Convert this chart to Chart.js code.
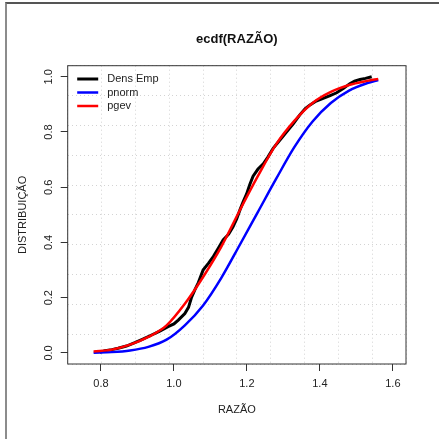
<!DOCTYPE html>
<html>
<head>
<meta charset="utf-8">
<script src="https://cdn.jsdelivr.net/npm/chart.js@4.4.1/dist/chart.umd.min.js"></script>
<style>
  html, body { margin: 0; padding: 0; background: #fff; }
  #wrap { position: relative; width: 439px; height: 439px; }
  #frame { position: absolute; left: 5px; top: 2px; right: 0; bottom: 0;
           border-left: 2px solid #8c8c8c; border-top: 2px solid #555; pointer-events: none; }
</style>
</head>
<body>
<div id="wrap">
  <canvas id="ecdfChart" width="439" height="439"></canvas>
  <div id="frame"></div>
</div>
<script>
// axis ticks
const xTicks = [0.8, 1.0, 1.2, 1.4, 1.6];
const yTicks = [0.0, 0.2, 0.4, 0.6, 0.8, 1.0];

const empX = [0.797, 0.811, 0.830, 0.847, 0.870, 0.893, 0.915, 0.939, 0.960, 0.984,
              1.000, 1.012, 1.030, 1.040, 1.048, 1.058, 1.067, 1.080, 1.095, 1.108,
              1.120, 1.135, 1.150, 1.162, 1.172, 1.181, 1.190, 1.199, 1.208, 1.217,
              1.230, 1.245, 1.258, 1.272, 1.290, 1.309, 1.327, 1.345, 1.360, 1.373,
              1.390, 1.409, 1.428, 1.446, 1.465, 1.482, 1.495, 1.510, 1.525, 1.542];
const empY = [0.002, 0.008, 0.012, 0.017, 0.025, 0.037, 0.050, 0.065, 0.078, 0.095,
              0.105, 0.119, 0.143, 0.165, 0.200, 0.230, 0.255, 0.300, 0.325, 0.349,
              0.375, 0.409, 0.430, 0.457, 0.485, 0.518, 0.548, 0.575, 0.610, 0.640,
              0.665, 0.685, 0.710, 0.741, 0.770, 0.801, 0.830, 0.862, 0.885, 0.898,
              0.912, 0.922, 0.932, 0.942, 0.958, 0.975, 0.984, 0.990, 0.994, 1.000];

// fitted normal
const normX = [0.78, 0.83, 0.88, 0.93, 0.98, 1.03, 1.08, 1.13, 1.18, 1.23, 1.28, 1.33, 1.38, 1.43, 1.48, 1.53, 1.56];
const normY = [0.001, 0.003, 0.009, 0.022, 0.048, 0.100, 0.172, 0.272, 0.390, 0.510, 0.630, 0.745, 0.838, 0.905, 0.950, 0.977, 0.988];

// fitted gev
const gevX = [0.78, 0.83, 0.88, 0.93, 0.98, 1.03, 1.08, 1.13, 1.18, 1.23, 1.28, 1.33, 1.38, 1.43, 1.48, 1.53, 1.56];
const gevY = [0.005, 0.012, 0.030, 0.058, 0.100, 0.178, 0.275, 0.385, 0.515, 0.640, 0.755, 0.840, 0.905, 0.945, 0.970, 0.985, 0.992];

const xMin = 0.709, xMax = 1.636;
const yMin = -0.04, yMax = 1.04;

function toPoints(xs, ys) {
    return xs.map((x, i) => ({ x: x, y: ys[i] }));
}

Chart.defaults.font.family = '"Liberation Sans", Arial, Helvetica, sans-serif';
Chart.defaults.color = '#222';

// dotted grid that splits the plot into 10 x 10 cells
function evenTicks(scale) {
    const ticks = [];
    for (let i = 0; i <= 10; i++) {
        ticks.push({ value: scale.min + i * (scale.max - scale.min) / 10 });
    }
    scale.ticks = ticks;
}

const boxPlugin = {
    id: 'box',
    afterDatasetsDraw(chart) {
        const { ctx, chartArea: a } = chart;
        ctx.save();
        ctx.strokeStyle = '#333';
        ctx.lineWidth = 1;
        ctx.strokeRect(a.left, a.top, a.right - a.left, a.bottom - a.top);
        ctx.restore();
    }
};

// rotated y tick labels, R style
const yLabelPlugin = {
    id: 'yLabels',
    afterDraw(chart) {
        const { ctx } = chart;
        const y = chart.scales.y;
        ctx.save();
        ctx.font = '11px "Liberation Sans", Arial, sans-serif';
        ctx.fillStyle = '#222';
        ctx.textAlign = 'center';
        ctx.textBaseline = 'middle';
        yTicks.forEach(v => {
            ctx.save();
            ctx.translate(48.5, y.getPixelForValue(v));
            ctx.rotate(-Math.PI / 2);
            ctx.fillText(v.toFixed(1), 0, 0);
            ctx.restore();
        });
        ctx.restore();
    }
};

// legend in the top-left corner, no box
const legendPlugin = {
    id: 'rLegend',
    afterDraw(chart) {
        const { ctx, chartArea: a } = chart;
        ctx.save();
        ctx.font = '11px "Liberation Sans", Arial, sans-serif';
        ctx.textAlign = 'left';
        ctx.textBaseline = 'middle';
        chart.data.datasets.forEach((ds, i) => {
            const yy = a.top + 13.3 + i * 13.5;
            ctx.strokeStyle = ds.borderColor;
            ctx.lineWidth = ds.borderWidth;
            ctx.beginPath();
            ctx.moveTo(a.left + 9.5, yy);
            ctx.lineTo(a.left + 30.5, yy);
            ctx.stroke();
            ctx.fillStyle = '#222';
            ctx.fillText(ds.label, a.left + 39.5, yy);
        });
        ctx.restore();
    }
};

const ctx = document.getElementById('ecdfChart').getContext('2d');
const ecdfChart = new Chart(ctx, {
    type: 'scatter',
    data: {
        datasets: [{
            label: 'Dens Emp',
            data: toPoints(empX, empY),
            borderColor: '#000000',
            borderWidth: 3,
            showLine: true,
            tension: 0,
            pointRadius: 0,
            order: 3
        }, {
            label: 'pnorm',
            data: toPoints(normX, normY),
            borderColor: '#0000ff',
            borderWidth: 2.5,
            showLine: true,
            cubicInterpolationMode: 'monotone',
            pointRadius: 0,
            order: 2
        }, {
            label: 'pgev',
            data: toPoints(gevX, gevY),
            borderColor: '#ff0000',
            borderWidth: 2.5,
            showLine: true,
            cubicInterpolationMode: 'monotone',
            pointRadius: 0,
            order: 1
        }]
    },
    options: {
        responsive: false,
        animation: false,
        devicePixelRatio: 1,
        layout: { padding: { left: 0, right: 33, top: 0, bottom: 0 } },
        plugins: {
            legend: { display: false },
            tooltip: { enabled: false },
            title: {
                display: true,
                fullSize: false,
                text: 'ecdf(RAZÃO)',
                color: '#111',
                font: { size: 13, weight: 'bold' },
                padding: { top: 32, bottom: 18.1 }
            }
        },
        scales: {
            xg: {
                type: 'linear', position: 'bottom', min: xMin, max: xMax,
                afterBuildTicks: evenTicks,
                afterFit: s => { s.height = 0; },
                ticks: { display: false },
                grid: { color: '#d3d3d3', lineWidth: 1, drawTicks: false, tickLength: 0 },
                border: { display: false, dash: [1, 3] }
            },
            yg: {
                type: 'linear', position: 'left', min: yMin, max: yMax,
                afterBuildTicks: evenTicks,
                afterFit: s => { s.width = 0; },
                ticks: { display: false },
                grid: { color: '#d3d3d3', lineWidth: 1, drawTicks: false, tickLength: 0 },
                border: { display: false, dash: [1, 3] }
            },
            x: {
                type: 'linear', position: 'bottom', min: xMin, max: xMax,
                afterBuildTicks: s => { s.ticks = xTicks.map(v => ({ value: v })); },
                afterFit: s => { s.height = 75; },
                ticks: {
                    callback: v => v.toFixed(1),
                    font: { size: 11 }, color: '#222',
                    padding: 6, maxRotation: 0, autoSkip: false
                },
                grid: { drawOnChartArea: false, drawTicks: true, tickLength: 7, color: '#333' },
                border: { display: false },
                title: {
                    display: true, text: 'RAZÃO', color: '#222',
                    font: { size: 11 }, padding: { top: 0, bottom: 22.4 }
                }
            },
            y: {
                type: 'linear', position: 'left', min: yMin, max: yMax,
                afterBuildTicks: s => { s.ticks = yTicks.map(v => ({ value: v })); },
                afterFit: s => { s.width = 67.7; },
                ticks: { display: false },
                grid: { drawOnChartArea: false, drawTicks: true, tickLength: 7, color: '#333' },
                border: { display: false },
                title: {
                    display: true, text: 'DISTRIBUIÇÃO', color: '#222',
                    font: { size: 11 }, padding: { top: 15.9, bottom: 0 }
                }
            }
        }
    },
    plugins: [boxPlugin, yLabelPlugin, legendPlugin]
});
</script>
</body>
</html>
